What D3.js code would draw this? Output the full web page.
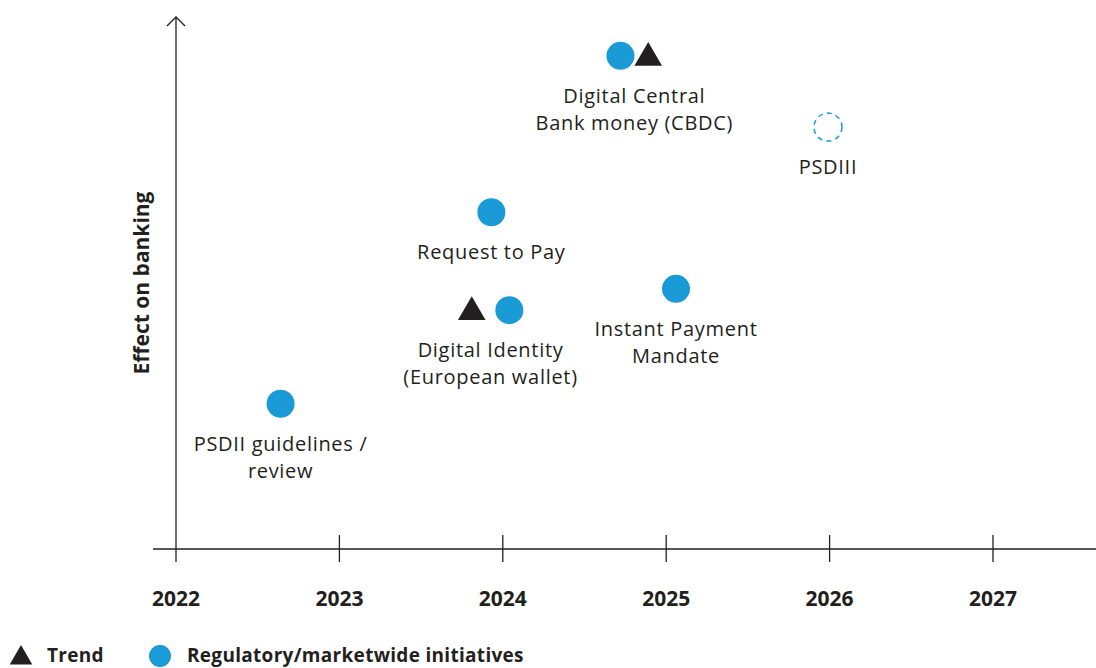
<!DOCTYPE html>
<html>
<head>
    <title>Payments timeline</title>
    <script src="https://d3js.org/d3.v7.min.js"></script>
    <style>
        body { margin: 0; background: #fff; }
        text { font-family: "Open Sans", Lato, sans-serif; fill: #231f20; }
    </style>
</head>
<body>
<script>
    // data
    const years = [2022, 2023, 2024, 2025, 2026, 2027];
    const initiatives = ["PSDII guidelines / review", "Request to Pay", "Digital Identity (European wallet)",
        "Instant Payment Mandate", "Digital Central Bank money (CBDC)", "PSDIII"];
    const labelLines = [["PSDII guidelines /", "review"], ["Request to Pay"], ["Digital Identity", "(European wallet)"],
        ["Instant Payment", "Mandate"], ["Digital Central", "Bank money (CBDC)"], ["PSDIII"]];
    const circleYear = [2022.64, 2023.93, 2024.04, 2025.06, 2024.72, 2025.99];
    const effect = [27.3, 63.3, 44.9, 48.9, 92.7, 79.3];
    const trendYear = [null, null, 2023.81, null, 2024.89, null];
    const planned = [false, false, false, false, false, true];

    const width = 1096, height = 668;
    const blue = "#1a9ad6", ink = "#231f20";

    const x = d3.scaleLinear().domain([2022, 2027]).range([176, 993]);
    const y = d3.scaleLinear().domain([0, 100]).range([549, 17]);

    const svg = d3.select("body").append("svg")
        .attr("width", width)
        .attr("height", height);

    // axes
    svg.append("line")
        .attr("x1", 153).attr("x2", width)
        .attr("y1", y(0)).attr("y2", y(0))
        .style("stroke", ink).style("stroke-width", 1.3);
    svg.append("line")
        .attr("x1", x(2022)).attr("x2", x(2022))
        .attr("y1", y(0) + 13).attr("y2", y(100))
        .style("stroke", ink).style("stroke-width", 1.3);
    svg.append("path")
        .attr("d", `M${x(2022) - 9},${y(100) + 9} L${x(2022)},${y(100)} L${x(2022) + 9},${y(100) + 9}`)
        .style("fill", "none").style("stroke", ink).style("stroke-width", 1.3);

    svg.selectAll(".tick")
        .data(years.slice(1))
        .join("line")
        .attr("class", "tick")
        .attr("x1", d => x(d)).attr("x2", d => x(d))
        .attr("y1", y(0) - 14).attr("y2", y(0) + 13)
        .style("stroke", ink).style("stroke-width", 1.3);

    svg.selectAll(".yearLabel")
        .data(years)
        .join("text")
        .attr("class", "yearLabel")
        .attr("x", d => x(d))
        .attr("y", 606)
        .attr("text-anchor", "middle")
        .style("font-size", "21px")
        .style("font-weight", "bold")
        .text(d => d);

    svg.append("text")
        .attr("transform", "translate(149,283) rotate(-90)")
        .attr("text-anchor", "middle")
        .style("font-size", "21px")
        .style("font-weight", "bold")
        .text("Effect on banking");

    const tri = d3.symbol().type(d3.symbolTriangle).size(330);

    // markers
    initiatives.forEach((name, i) => {
        const cx = x(circleYear[i]), cy = y(effect[i]);
        const g = svg.append("g").attr("class", "initiative");
        if (planned[i]) {
            g.append("circle")
                .attr("cx", cx).attr("cy", cy).attr("r", 14)
                .style("fill", "none")
                .style("stroke", blue)
                .style("stroke-width", 1.5)
                .style("stroke-dasharray", "5,4.2");
        } else {
            g.append("circle")
                .attr("cx", cx).attr("cy", cy).attr("r", 14)
                .style("fill", blue);
        }
        let lx = cx;
        if (trendYear[i] !== null) {
            const tx = x(trendYear[i]);
            g.append("path")
                .attr("d", tri)
                .attr("transform", `translate(${tx},${cy + 2})`)
                .style("fill", ink);
            lx = (cx + tx) / 2;
        }
        g.selectAll("text")
            .data(labelLines[i])
            .join("text")
            .attr("x", lx)
            .attr("y", (d, k) => cy + 47 + k * 27)
            .attr("text-anchor", "middle")
            .style("font-size", "20px")
            .style("letter-spacing", "0.7px")
            .text(d => d);
    });

    // legend
    svg.append("path")
        .attr("d", d3.symbol().type(d3.symbolTriangle).size(220))
        .attr("transform", "translate(21,658)")
        .style("fill", ink);
    svg.append("text")
        .attr("x", 47).attr("y", 662)
        .style("font-size", "19px").style("font-weight", "bold")
        .style("letter-spacing", "0.3px")
        .text("Trend");
    svg.append("circle")
        .attr("cx", 160).attr("cy", 656).attr("r", 11)
        .style("fill", blue);
    svg.append("text")
        .attr("x", 187).attr("y", 662)
        .style("font-size", "19px").style("font-weight", "bold")
        .style("letter-spacing", "0.3px")
        .text("Regulatory/marketwide initiatives");
</script>
</body>
</html>
